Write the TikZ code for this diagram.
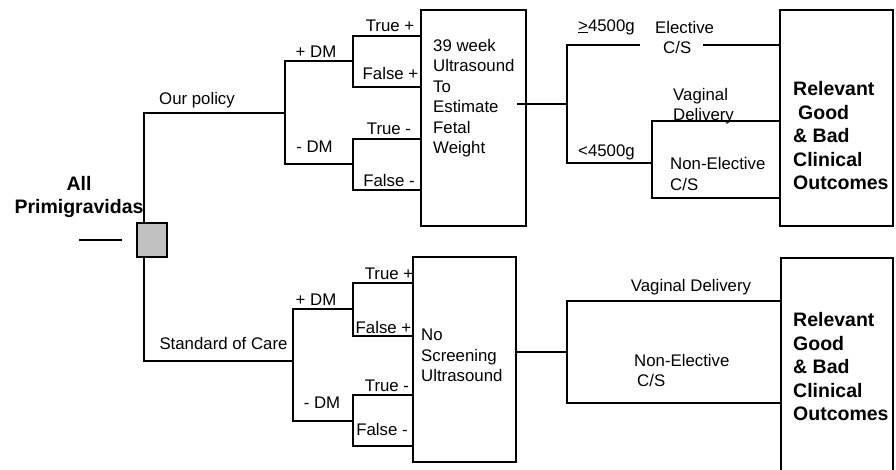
\documentclass[tikz,border=0pt]{standalone}
\usepackage{fontspec}
\setmainfont{Liberation Sans}
\usetikzlibrary{positioning,calc}

\begin{document}
\begin{tikzpicture}[x=1pt,y=-1pt]
	\tikzset{
		ln/.style={line width=1.8pt},
		box/.style={draw, line width=1.8pt, inner sep=0pt},
		lab/.style={font=\fontsize{16.8}{20.5}\selectfont, inner sep=0pt, align=left},
		big/.style={font=\fontsize{19.5}{23.5}\selectfont\bfseries, inner sep=0pt, align=left}
	}
	\clip (0,0) rectangle (896,469);
	
	% BOXES
	\node[box, fill={rgb,255:red,192;green,192;blue,192}, minimum width=30pt, minimum height=34pt] (dec) at (152,240) {};
	\node[box, minimum width=105pt, minimum height=216pt] (us) at (473.5,118) {};
	\node[box, minimum width=113pt, minimum height=216pt] (out1) at (836.5,118) {};
	\node[box, minimum width=103pt, minimum height=205pt] (noscr) at (464.5,359.5) {};
	\node[box, minimum width=112pt, minimum height=222pt] (out2) at (837,369) {};
	
	\node[big, align=center] (all) at (79,197) {All\\Primigravidas};
	\coordinate (root) at (79,240);
	\draw[ln] (root) -- ([xshift=-14pt]dec.west);
	
	% OUR POLICY
	\coordinate (pol) at (285,113);
	\coordinate (pdm) at (353,61);
	\coordinate (mdm) at (353,164);
	\coordinate (tp1) at (353,36);
	\coordinate (fp1) at (353,87);
	\coordinate (tm1) at (353,139);
	\coordinate (fm1) at (353,190);
	\draw[ln] ([xshift=8pt]dec.north west) |- (pol);
	\draw[ln] (pdm) -| (pol) |- (mdm);
	\draw[ln] (us.west |- tp1) -- (tp1) -- (fp1) -- (us.west |- fp1);
	\draw[ln] (us.west |- tm1) -- (tm1) -- (fm1) -- (us.west |- fm1);
	
	\node[lab] (l-pol) at (197,100) {Our policy};
	\node[lab] (l-pdm) at (316,52) {+ DM};
	\node[lab] (l-mdm) at (314.5,147) {- DM};
	\node[lab] (l-tp1) at (390,26) {True +};
	\node[lab] (l-fp1) at (390.5,73) {False +};
	\node[lab] (l-tm1) at (389,129) {True -};
	\node[lab] (l-fm1) at (389,180) {False -};
	\node[lab, anchor=west] (t-us) at (433,98) {39 week\\Ultrasound\\To\\Estimate\\Fetal\\Weight};
	
	\coordinate (usout) at (517,104);
	\coordinate (ws) at (567,104);
	\coordinate (hi) at (567,45);
	\coordinate (lo) at (567,163);
	\coordinate (gapl) at (640,45);
	\coordinate (gapr) at (703,45);
	\coordinate (vd) at (652,121);
	\coordinate (ne) at (652,198);
	\draw[ln] (usout) -- (ws);
	\draw[ln] (gapl) -- (hi) -- (lo) -- (vd |- lo);
	\draw[ln] (gapr) -- (out1.west |- gapr);
	\draw[ln] (out1.west |- vd) -- (vd) -- (ne) -- (out1.west |- ne);
	
	\node[lab] (l-hi) at (606.5,27) {\underline{>}4500g};
	\node[lab] (l-lo) at (606.5,152) {<4500g};
	\node[lab, anchor=west] (l-el) at (655,37.5) {Elective\\\hspace*{8pt}C/S};
	\node[lab, anchor=west] (l-vd) at (673,106) {Vaginal\\Delivery};
	\node[lab, anchor=west] (l-ne) at (670,174) {Non-Elective\\C/S};
	\node[big, anchor=west] (t-out1) at (793,136) {Relevant\\\hspace*{5pt}Good\\\& Bad\\Clinical\\Outcomes};
	
	% STANDARD OF CARE
	\coordinate (soc) at (293,361);
	\coordinate (pdm2) at (353,309);
	\coordinate (mdm2) at (353,421);
	\coordinate (tp2) at (353,283);
	\coordinate (fp2) at (353,336);
	\coordinate (tm2) at (353,395);
	\coordinate (fm2) at (353,446);
	\draw[ln] ([xshift=8pt]dec.south west) |- (soc);
	\draw[ln] (pdm2) -| (soc) |- (mdm2);
	\draw[ln] (noscr.west |- tp2) -- (tp2) -- (fp2) -- (noscr.west |- fp2);
	\draw[ln] (noscr.west |- tm2) -- (tm2) -- (fm2) -- (noscr.west |- fm2);
	
	\node[lab] (l-soc) at (223.5,343) {Standard of Care};
	\node[lab] (l-pdm2) at (316,300) {+ DM};
	\node[lab] (l-mdm2) at (322,403) {- DM};
	\node[lab] (l-tp2) at (389,274) {True +};
	\node[lab] (l-fp2) at (383.5,327) {False +};
	\node[lab] (l-tm2) at (387,386) {True -};
	\node[lab] (l-fm2) at (382,429) {False -};
	\node[lab, anchor=west] (t-ns) at (421,355.5) {No\\Screening\\Ultrasound};
	
	\coordinate (ns) at (567,352);
	\coordinate (vd2) at (567,301);
	\coordinate (ne2) at (567,403);
	\draw[ln] (noscr.east |- ns) -- (ns);
	\draw[ln] (out2.west |- vd2) -- (vd2) -- (ne2) -- (out2.west |- ne2);
	
	\node[lab] (l-vd2) at (691,287) {Vaginal Delivery};
	\node[lab, anchor=west] (l-ne2) at (634,370.5) {Non-Elective\\\hspace*{3pt}C/S};
	\node[big, anchor=west] (t-out2) at (793,367) {Relevant\\Good\\\& Bad\\Clinical\\Outcomes};
\end{tikzpicture}
\end{document}
